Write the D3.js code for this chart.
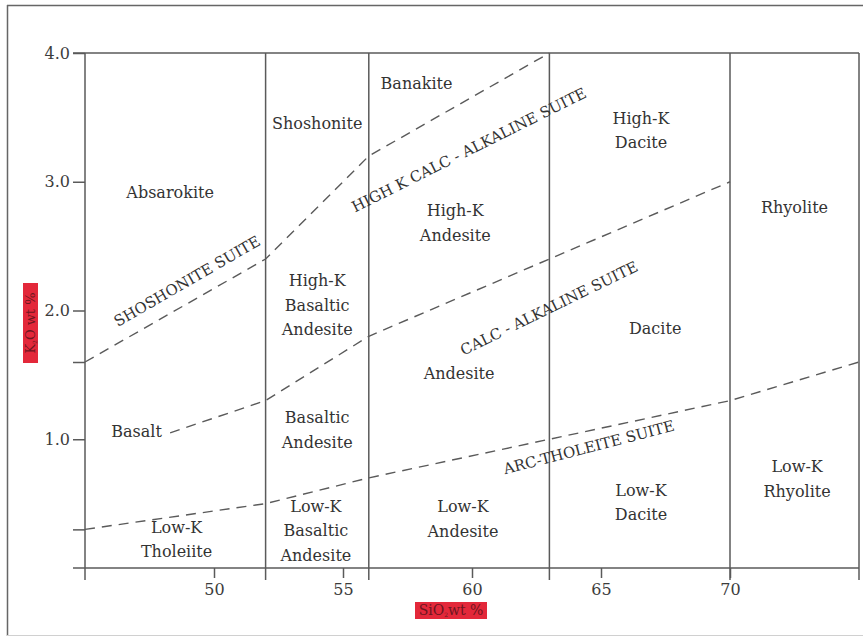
<!DOCTYPE html>
<html>
<head>
<meta charset="utf-8">
<script src="https://cdn.jsdelivr.net/npm/d3@7"></script>
<style>
  body { margin: 0; background: #fff; }
  svg { display: block; }
  text { font-family: "DejaVu Serif", "Liberation Serif", serif; }
</style>
</head>
<body>
<svg id="chart" width="863" height="637"></svg>
<script>
// Axis ranges (SiO2 wt %, K2O wt %) and ticks
const xDomain = [45, 75];
const yDomain = [0, 4];
const xTicks = [50, 55, 60, 65, 70];
const yTicks = [0.3, 1.0, 1.6, 2.0, 3.0, 4.0];
const yTickLabels = ["", "1.0", "", "2.0", "3.0", "4.0"];

// SiO2 values separating basalt / basaltic andesite / andesite / dacite / rhyolite
const silicaDividers = [45, 52, 56, 63, 70, 75];

// Dashed suite boundaries as [SiO2, K2O] vertices
const shoshoniteBoundary = [[45, 1.6], [52, 2.4], [56, 3.2], [63, 4.0]];
const highKBoundary = [[48.3, 1.05], [52, 1.3], [56, 1.8], [63, 2.4], [70, 3.0]];
const tholeiiteBoundary = [[45, 0.3], [52, 0.5], [56, 0.7], [63, 1.0], [70, 1.3], [75, 1.6]];

// Rock names: text lines with the [SiO2, K2O] point they are centred on
const fieldNames = [
  { lines: ["Absarokite"], at: [48.3, 2.92] },
  { lines: ["Shoshonite"], at: [54.0, 3.45] },
  { lines: ["Banakite"], at: [57.85, 3.76] },
  { lines: ["High-K", "Dacite"], at: [66.55, 3.40] },
  { lines: ["High-K", "Andesite"], at: [59.35, 2.68] },
  { lines: ["Rhyolite"], at: [72.5, 2.80] },
  { lines: ["High-K", "Basaltic", "Andesite"], at: [54.0, 2.04] },
  { lines: ["Dacite"], at: [67.1, 1.86] },
  { lines: ["Andesite"], at: [59.5, 1.51] },
  { lines: ["Basalt"], at: [47.0, 1.06] },
  { lines: ["Basaltic", "Andesite"], at: [54.0, 1.07] },
  { lines: ["Low-K", "Tholeiite"], at: [48.55, 0.22] },
  { lines: ["Low-K", "Basaltic", "Andesite"], at: [53.95, 0.29] },
  { lines: ["Low-K", "Andesite"], at: [59.65, 0.38] },
  { lines: ["Low-K", "Dacite"], at: [66.55, 0.51] },
  { lines: ["Low-K", "Rhyolite"], at: [72.6, 0.69] }
];

// Magma suite names laid along the boundaries
const suiteNames = [
  { name: "SHOSHONITE SUITE", at: [48.95, 2.23] },
  { name: "HIGH K CALC - ALKALINE SUITE", at: [59.88, 3.25] },
  { name: "CALC - ALKALINE SUITE", at: [62.98, 2.02] },
  { name: "ARC-THOLEITE SUITE", at: [64.53, 0.94] }
];

// ---- drawing ----
const svg = d3.select("#chart");
const W = 863, H = 637;
const plot = { left: 85, right: 859, top: 53, bottom: 568 };
const ink = "#5a5a5a";
const textInk = "#333";

const x = d3.scaleLinear().domain(xDomain).range([plot.left, plot.right]);
const y = d3.scaleLinear().domain(yDomain).range([plot.bottom, plot.top]);

// page frame
svg.append("rect").attr("width", W).attr("height", H).attr("fill", "#fff");
svg.append("line").attr("x1", 7).attr("x2", W).attr("y1", 5.5).attr("y2", 5.5)
  .attr("stroke", "#666").attr("stroke-width", 1.5);
svg.append("line").attr("x1", 7.5).attr("x2", 7.5).attr("y1", 5).attr("y2", 636)
  .attr("stroke", "#666").attr("stroke-width", 1.5);
svg.append("line").attr("x1", 7).attr("x2", W).attr("y1", 635.5).attr("y2", 635.5)
  .attr("stroke", "#d0d0d0").attr("stroke-width", 1);

// axes
const yAxis = d3.axisLeft(y).tickValues(yTicks).tickSize(12).tickPadding(3)
  .tickFormat((d, i) => yTickLabels[i]);
const gy = svg.append("g").attr("transform", `translate(${plot.left},0)`).call(yAxis);
const xAxis = d3.axisBottom(x).tickValues(xTicks).tickSize(10).tickPadding(6)
  .tickFormat(d3.format("d"));
const gx = svg.append("g").attr("transform", `translate(0,${plot.bottom})`).call(xAxis);
[gx, gy].forEach(g => {
  g.select(".domain").remove();
  g.selectAll(".tick line").attr("stroke", ink).attr("stroke-width", 1.5);
  g.selectAll(".tick text").attr("fill", "#3c3c3c").style("font-size", "16px")
    .style("font-family", "'DejaVu Serif', serif");
});

// horizontal frame lines at K2O = 0 and 4
[yDomain[0], yDomain[1]].forEach(v => {
  svg.append("line")
    .attr("x1", x(xDomain[0]) - 12).attr("x2", x(xDomain[1]))
    .attr("y1", y(v)).attr("y2", y(v))
    .attr("stroke", ink).attr("stroke-width", 1.5);
});

// vertical silica dividers, running just below the axis
svg.append("g").selectAll("line").data(silicaDividers).join("line")
  .attr("x1", d => x(d)).attr("x2", d => x(d))
  .attr("y1", y(yDomain[1])).attr("y2", y(yDomain[0]) + 12)
  .attr("stroke", ink).attr("stroke-width", 1.5);

// dashed suite boundaries
const line = d3.line().x(d => x(d[0])).y(d => y(d[1]));
svg.append("g").selectAll("path")
  .data([shoshoniteBoundary, highKBoundary, tholeiiteBoundary]).join("path")
  .attr("d", line).attr("fill", "none")
  .attr("stroke", ink).attr("stroke-width", 1.4)
  .attr("stroke-dasharray", "10,7");

// rock field names
const lh = 24.5;
const fg = svg.append("g").attr("fill", textInk).style("font-size", "16px");
fieldNames.forEach(f => {
  const t = fg.append("text").attr("text-anchor", "middle")
    .attr("x", x(f.at[0])).attr("y", y(f.at[1]));
  f.lines.forEach((s, i) => {
    t.append("tspan").attr("x", x(f.at[0]))
      .attr("dy", i === 0 ? (-(f.lines.length - 1) / 2 * lh + 5.5) : lh)
      .text(s);
  });
});

// suite names, tilted along their boundary
const tilt = {
  "SHOSHONITE SUITE": -30,
  "HIGH K CALC - ALKALINE SUITE": -26.5,
  "CALC - ALKALINE SUITE": -26,
  "ARC-THOLEITE SUITE": -14.5
};
const sg = svg.append("g").attr("fill", textInk).style("font-size", "15px");
suiteNames.forEach(s => {
  const px = x(s.at[0]), py = y(s.at[1]);
  sg.append("text").attr("text-anchor", "middle")
    .attr("transform", `translate(${px},${py}) rotate(${tilt[s.name]})`)
    .attr("dy", 5.5)
    .text(s.name);
});

// axis titles on red tags
const xt = svg.append("g");
xt.append("rect").attr("x", 415).attr("y", 602).attr("width", 72).attr("height", 17)
  .attr("fill", "#e3283a");
const xtt = xt.append("text").attr("x", 451).attr("y", 615).attr("text-anchor", "middle")
  .attr("fill", "#6e1620").style("font-size", "14px");
xtt.append("tspan").text("SiO");
xtt.append("tspan").style("font-size", "6px").attr("dy", 2).text("2");
xtt.append("tspan").attr("dy", -2).text("wt %");

const yt = svg.append("g");
yt.append("rect").attr("x", 23).attr("y", 283).attr("width", 15).attr("height", 80)
  .attr("fill", "#e3283a");
const ytt = yt.append("text").attr("transform", "translate(35,323) rotate(-90)")
  .attr("text-anchor", "middle").attr("fill", "#6e1620").style("font-size", "13px");
ytt.append("tspan").text("K");
ytt.append("tspan").style("font-size", "6px").attr("dy", 2).text("2");
ytt.append("tspan").attr("dy", -2).text("O wt %");
</script>
</body>
</html>
